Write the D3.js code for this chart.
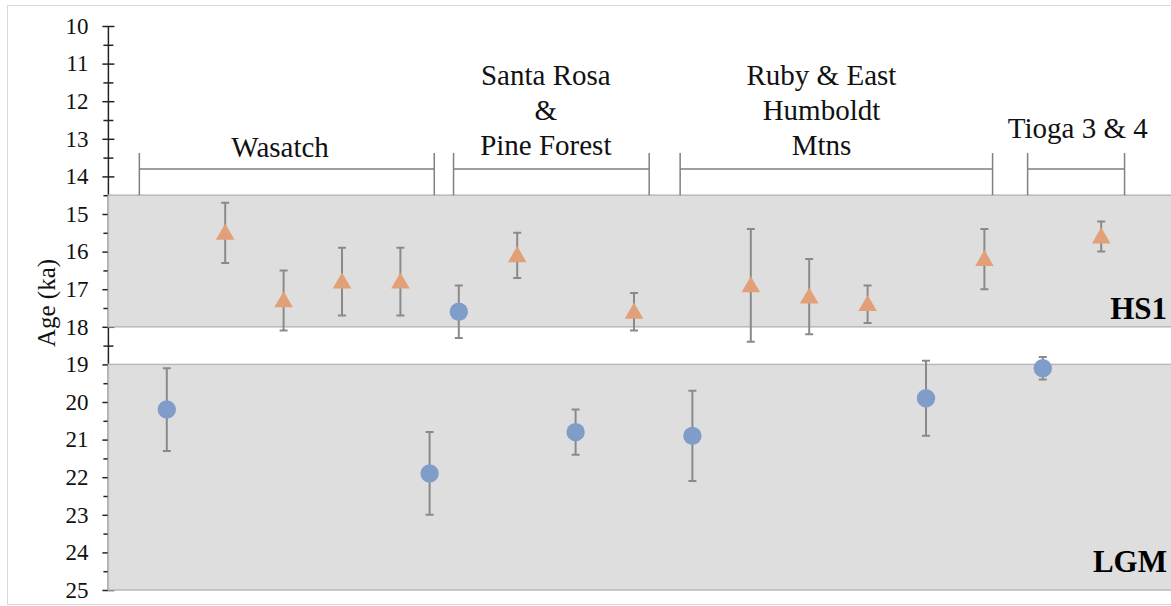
<!DOCTYPE html>
<html>
<head>
<meta charset="utf-8">
<script src="https://cdn.jsdelivr.net/npm/d3@7"></script>
<style>
  body { margin: 0; background: #fff; }
</style>
</head>
<body>
<div id="chart"></div>
<script>
// sample positions along the (hidden) x axis, ages and 1-sigma errors
var circleX   = [1, 5.5, 6, 8, 10, 14, 16];
var circleAge = [20.2, 21.9, 17.6, 20.8, 20.9, 19.9, 19.1];
var circleErr = [1.1, 1.1, 0.7, 0.6, 1.2, 1.0, 0.3];

var triX   = [2, 3, 4, 5, 7, 9, 11, 12, 13, 15, 17];
var triAge = [15.5, 17.3, 16.8, 16.8, 16.1, 17.6, 16.9, 17.2, 17.4, 16.2, 15.6];
var triErr = [0.8, 0.8, 0.9, 0.9, 0.6, 0.5, 1.5, 1.0, 0.5, 0.8, 0.4];

// shaded periods (ka)
var bandNames = ["HS1", "LGM"];
var bandFrom  = [14.5, 19];
var bandTo    = [18, 25];

// range groups: bracket start/end on x, label centre and lines
var groupStart = [0.53, 5.91, 9.79, 15.74];
var groupEnd   = [5.58, 9.26, 15.14, 17.40];
var groupMid   = [2.94, 7.49, 12.21, 16.6];
var groupLines = [["Wasatch"], ["Santa Rosa", "&", "Pine Forest"], ["Ruby & East", "Humboldt", "Mtns"], ["Tioga 3 & 4"]];
var groupBase  = [156.7, 155, 155, 138.3];

var FONT = "'Liberation Serif', 'DejaVu Serif', serif";
var width = 1171, height = 606;

var svg = d3.select("#chart").append("svg")
    .attr("width", width)
    .attr("height", height)
    .attr("font-family", FONT);

// outer frame
svg.append("rect")
    .attr("x", 7.5).attr("y", 5.5)
    .attr("width", 1200).attr("height", 599)
    .attr("fill", "none")
    .attr("stroke", "#d9d9d9");

var x = d3.scaleLinear().domain([0, 18]).range([108.4, 108.4 + 58.4 * 18]);
var y = d3.scaleLinear().domain([10, 25]).range([26, 590]);

// axis line + ticks
var major = d3.axisLeft(y)
    .tickValues(d3.range(10, 25.01, 1))
    .tickSize(6)
    .tickPadding(14)
    .tickFormat(d3.format("d"));
var minor = d3.axisLeft(y)
    .tickValues(d3.range(10.5, 25, 1))
    .tickSize(5)
    .tickFormat("");

var gMinor = svg.append("g").attr("transform", "translate(108.4,0)").call(minor);
gMinor.select(".domain").remove();
gMinor.selectAll(".tick").append("line").attr("x2", 5);

var gMajor = svg.append("g").attr("transform", "translate(108.4,0)").call(major);
gMajor.attr("font-family", FONT).attr("font-size", 23);
gMajor.select(".domain").attr("stroke", "#222").attr("stroke-width", 1.5).attr("d", "M0," + y(10) + "V" + y(25));
gMajor.selectAll(".tick").append("line").attr("x2", 6);
gMajor.selectAll(".tick line").attr("stroke", "#222").attr("stroke-width", 1.5);
gMinor.selectAll(".tick line").attr("stroke", "#222").attr("stroke-width", 1.5);
gMajor.selectAll(".tick text")
    .style("font-family", FONT)
    .style("font-size", "23px")
    .attr("fill", "#111");

// shaded bands
svg.selectAll("rect.band")
    .data(bandNames)
    .enter().append("rect")
    .attr("class", "band")
    .attr("x", x(0))
    .attr("y", function(d, i) { return y(bandFrom[i]); })
    .attr("width", width - x(0) + 5)
    .attr("height", function(d, i) { return y(bandTo[i]) - y(bandFrom[i]); })
    .attr("fill", "#dedede")
    .attr("stroke", "#b9b9b9")
    .attr("stroke-width", 1.5);

var bandLabelBase = [319, 572];
svg.selectAll("text.bandlabel")
    .data(bandNames)
    .enter().append("text")
    .attr("class", "bandlabel")
    .attr("x", 1167)
    .attr("y", function(d, i) { return bandLabelBase[i]; })
    .attr("text-anchor", "end")
    .style("font-family", FONT)
    .style("font-size", "31px")
    .style("font-weight", "bold")
    .attr("fill", "#000")
    .text(function(d) { return d; });

// y axis title
svg.append("text")
    .attr("transform", "translate(55," + 303 + ") rotate(-90)")
    .attr("text-anchor", "middle")
    .style("font-family", FONT)
    .style("font-size", "25px")
    .attr("fill", "#111")
    .text("Age (ka)");

// group brackets
var bracketLevel = 13.8, bracketTop = 13.38, bracketBottom = 14.5;
var groups = svg.selectAll("g.group")
    .data(groupLines)
    .enter().append("g")
    .attr("class", "group");

groups.append("path")
    .attr("d", function(d, i) {
        var a = x(groupStart[i]), b = x(groupEnd[i]);
        return "M" + a + "," + y(bracketTop) + "V" + y(bracketBottom) +
               "M" + a + "," + y(bracketLevel) + "H" + b +
               "M" + b + "," + y(bracketTop) + "V" + y(bracketBottom);
    })
    .attr("fill", "none")
    .attr("stroke", "#808080")
    .attr("stroke-width", 1.5);

groups.each(function(lines, i) {
    var g = d3.select(this);
    var n = lines.length;
    lines.forEach(function(line, k) {
        g.append("text")
            .attr("x", x(groupMid[i]))
            .attr("y", groupBase[i] - (n - 1 - k) * 35)
            .attr("text-anchor", "middle")
            .style("font-family", FONT)
            .style("font-size", "29px")
            .attr("fill", "#111")
            .text(line);
    });
});

// error bars
function errorBars(xs, ages, errs) {
    var g = svg.append("g").attr("stroke", "#8a8a8a").attr("stroke-width", 2).attr("fill", "none");
    g.selectAll("path")
        .data(xs)
        .enter().append("path")
        .attr("d", function(d, i) {
            var cx = x(d), lo = y(ages[i] - errs[i]), hi = y(ages[i] + errs[i]);
            return "M" + cx + "," + lo + "V" + hi +
                   "M" + (cx - 4) + "," + lo + "H" + (cx + 4) +
                   "M" + (cx - 4) + "," + hi + "H" + (cx + 4);
        });
}
errorBars(circleX, circleAge, circleErr);
errorBars(triX, triAge, triErr);

// markers
svg.selectAll("circle.lgm")
    .data(circleX)
    .enter().append("circle")
    .attr("class", "lgm")
    .attr("cx", function(d) { return x(d); })
    .attr("cy", function(d, i) { return y(circleAge[i]); })
    .attr("r", 9.2)
    .attr("fill", "#809cc9");

var tri = d3.symbol().type(d3.symbolTriangle).size(150);
svg.selectAll("path.hs1")
    .data(triX)
    .enter().append("path")
    .attr("class", "hs1")
    .attr("transform", function(d, i) { return "translate(" + x(d) + "," + (y(triAge[i]) + 1.5) + ")"; })
    .attr("d", tri)
    .attr("fill", "#e2a078");
</script>
</body>
</html>
